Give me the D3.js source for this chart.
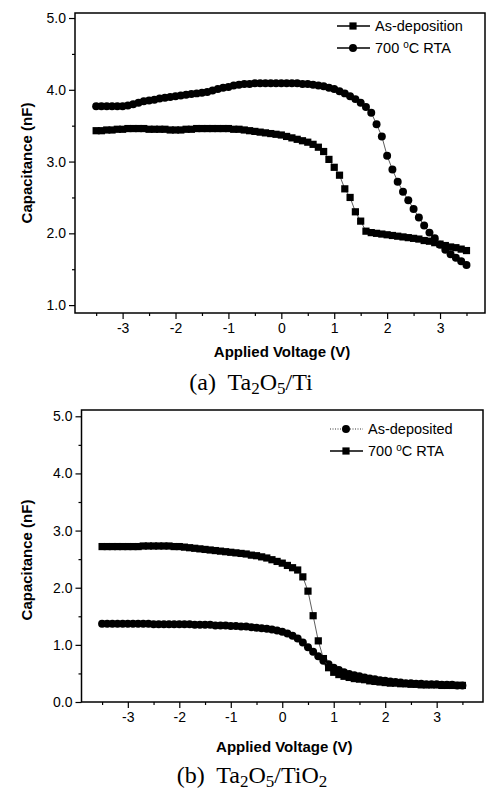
<!DOCTYPE html>
<html>
<head>
<meta charset="utf-8">
<script src="https://cdn.jsdelivr.net/npm/d3@7"></script>
<style>
  body { margin: 0; background: #fff; }
  svg { display: block; font-family: "Liberation Sans", Arial, sans-serif; }
  .axis text { font-size: 14px; fill: #000; }
  .axis line { stroke: #000; stroke-width: 1.2; }
  .axis path { display: none; }
</style>
</head>
<body>
<div id="chart"></div>
<script>
// sweep voltages (V), shared by both panels
const voltage = [
  -3.5, -3.4, -3.3, -3.2, -3.1, -3.0, -2.9, -2.8, -2.7, -2.6,
  -2.5, -2.4, -2.3, -2.2, -2.1, -2.0, -1.9, -1.8, -1.7, -1.6,
  -1.5, -1.4, -1.3, -1.2, -1.1, -1.0, -0.9, -0.8, -0.7, -0.6,
  -0.5, -0.4, -0.3, -0.2, -0.1, 0.0, 0.1, 0.2, 0.3, 0.4,
  0.5, 0.6, 0.7, 0.8, 0.9, 1.0, 1.1, 1.2, 1.3, 1.4,
  1.5, 1.6, 1.7, 1.8, 1.9, 2.0, 2.1, 2.2, 2.3, 2.4,
  2.5, 2.6, 2.7, 2.8, 2.9, 3.0, 3.1, 3.2, 3.3, 3.4,
  3.5
];

// (a) Ta2O5/Ti, capacitance in nF
const tiAsDep = [
  3.43, 3.43, 3.44, 3.44, 3.45, 3.45, 3.46, 3.46, 3.46, 3.46,
  3.45, 3.45, 3.45, 3.45, 3.44, 3.44, 3.44, 3.45, 3.45, 3.46,
  3.46, 3.46, 3.46, 3.46, 3.46, 3.46, 3.45, 3.45, 3.44, 3.43,
  3.42, 3.41, 3.40, 3.39, 3.38, 3.37, 3.35, 3.33, 3.31, 3.29,
  3.27, 3.24, 3.20, 3.14, 3.03, 2.92, 2.81, 2.62, 2.50, 2.30,
  2.17, 2.03, 2.01, 2.00, 1.99, 1.98, 1.97, 1.96, 1.95, 1.94,
  1.93, 1.92, 1.90, 1.89, 1.87, 1.85, 1.83, 1.81, 1.80, 1.78,
  1.76
];
const tiRta = [
  3.77, 3.77, 3.77, 3.77, 3.77, 3.77, 3.78, 3.80, 3.82, 3.84,
  3.85, 3.86, 3.88, 3.89, 3.90, 3.91, 3.92, 3.93, 3.94, 3.95,
  3.96, 3.97, 3.99, 4.01, 4.03, 4.04, 4.06, 4.07, 4.08, 4.08,
  4.09, 4.09, 4.09, 4.09, 4.09, 4.09, 4.09, 4.09, 4.09, 4.08,
  4.08, 4.07, 4.06, 4.05, 4.03, 4.01, 3.98, 3.95, 3.91, 3.87,
  3.82, 3.76, 3.68, 3.52, 3.35, 3.08, 2.89, 2.72, 2.58, 2.46,
  2.34, 2.22, 2.11, 2.01, 1.93, 1.84, 1.77, 1.71, 1.66, 1.61,
  1.56
];

// (b) Ta2O5/TiO2, capacitance in nF
const tio2AsDep = [
  1.37, 1.37, 1.37, 1.37, 1.37, 1.37, 1.37, 1.37, 1.37, 1.37,
  1.36, 1.36, 1.36, 1.36, 1.36, 1.36, 1.36, 1.36, 1.35, 1.35,
  1.35, 1.35, 1.34, 1.34, 1.34, 1.33, 1.33, 1.32, 1.32, 1.31,
  1.30, 1.29, 1.28, 1.27, 1.25, 1.23, 1.20, 1.16, 1.11, 1.04,
  0.96, 0.88, 0.80, 0.72, 0.66, 0.60, 0.56, 0.52, 0.49, 0.47,
  0.45, 0.43, 0.41, 0.40, 0.38, 0.37, 0.36, 0.35, 0.34, 0.33,
  0.33, 0.32, 0.32, 0.31, 0.31, 0.31, 0.30, 0.30, 0.30, 0.29,
  0.29
];
const tio2Rta = [
  2.72, 2.72, 2.72, 2.72, 2.72, 2.72, 2.72, 2.72, 2.73, 2.73,
  2.73, 2.73, 2.73, 2.73, 2.72, 2.72, 2.71, 2.70, 2.69, 2.68,
  2.67, 2.66, 2.65, 2.64, 2.63, 2.62, 2.61, 2.60, 2.59, 2.57,
  2.56, 2.54, 2.52, 2.49, 2.46, 2.43, 2.39, 2.35, 2.31, 2.19,
  1.94, 1.51, 1.07, 0.76, 0.60, 0.52, 0.48, 0.45, 0.43, 0.41,
  0.40, 0.39, 0.37, 0.36, 0.35, 0.34, 0.33, 0.33, 0.32, 0.32,
  0.31, 0.31, 0.30, 0.30, 0.30, 0.30, 0.29, 0.29, 0.29, 0.29,
  0.29
];

const xTicks = [-3, -2, -1, 0, 1, 2, 3];
const xMinor = [-3.5, -2.5, -1.5, -0.5, 0.5, 1.5, 2.5, 3.5];

const w = 486, h = 790;

const svg = d3.select('#chart')
  .append('svg')
  .attr('width', w)
  .attr('height', h);

const symbolFor = shape =>
  d3.symbol()
    .type(shape === 'square' ? d3.symbolSquare : d3.symbolCircle)
    .size(shape === 'square' ? 52 : 50);

function drawPanel(p) {
  const x = d3.scaleLinear().domain(p.xDomain).range([p.left, p.right]);
  const y = d3.scaleLinear().domain(p.yDomain).range([p.bottom, p.top]);
  const g = svg.append('g');

  // major + minor ticks, outward
  g.append('g').attr('class', 'axis')
    .attr('transform', `translate(0, ${p.bottom})`)
    .call(d3.axisBottom(x).tickValues(xTicks).tickSize(6).tickSizeOuter(0)
      .tickPadding(4).tickFormat(d => String(d)));
  g.append('g').attr('class', 'axis')
    .attr('transform', `translate(0, ${p.bottom})`)
    .call(d3.axisBottom(x).tickValues(xMinor).tickSize(3).tickSizeOuter(0).tickFormat(''));
  g.append('g').attr('class', 'axis')
    .attr('transform', `translate(${p.left}, 0)`)
    .call(d3.axisLeft(y).tickValues(p.yTicks).tickSize(6).tickSizeOuter(0)
      .tickPadding(3).tickFormat(d3.format('.1f')));
  g.append('g').attr('class', 'axis')
    .attr('transform', `translate(${p.left}, 0)`)
    .call(d3.axisLeft(y).tickValues(p.yMinor).tickSize(3).tickSizeOuter(0).tickFormat(''));

  // frame
  g.append('rect')
    .attr('x', p.left).attr('y', p.top)
    .attr('width', p.right - p.left).attr('height', p.bottom - p.top)
    .attr('fill', 'none').attr('stroke', '#000').attr('stroke-width', 1.5);

  // axis titles
  g.append('text')
    .attr('x', (p.left + p.right) / 2 + 2)
    .attr('y', p.xTitleY)
    .attr('text-anchor', 'middle')
    .style('font-size', '15px').style('font-weight', 'bold')
    .text('Applied Voltage (V)');
  g.append('text')
    .attr('transform', `translate(27, ${p.yTitleY}) rotate(-90)`)
    .attr('text-anchor', 'middle')
    .attr('dy', '0.35em')
    .style('font-size', '15px').style('font-weight', 'bold')
    .text('Capacitance (nF)');

  // series
  p.series.forEach(s => {
    const pts = voltage.map((v, i) => [v, s.values[i]]);
    g.append('path')
      .attr('d', d3.line().x(d => x(d[0])).y(d => y(d[1]))(pts))
      .attr('fill', 'none')
      .attr('stroke', '#333')
      .attr('stroke-width', 0.8)
      .attr('stroke-dasharray', s.dotted ? '1,1.5' : null);
    g.selectAll(null)
      .data(pts)
      .enter()
      .append('path')
      .attr('d', symbolFor(s.shape))
      .attr('transform', d => `translate(${x(d[0])}, ${y(d[1])})`)
      .attr('fill', '#000');
  });

  // legend
  p.series.forEach((s, i) => {
    const ly = p.legendY + i * 22;
    g.append('line')
      .attr('x1', p.legendX).attr('x2', p.legendX + 33)
      .attr('y1', ly).attr('y2', ly)
      .attr('stroke', '#000')
      .attr('stroke-width', s.dotted ? 0.8 : 1.4)
      .attr('stroke-dasharray', s.dotted ? '1,1.5' : null);
    g.append('path')
      .attr('d', symbolFor(s.shape))
      .attr('transform', `translate(${p.legendX + 16}, ${ly})`)
      .attr('fill', '#000');
    const t = g.append('text')
      .attr('x', p.legendX + 38)
      .attr('y', ly)
      .attr('dy', '0.35em')
      .style('font-size', '14.5px');
    if (s.rta) {
      t.append('tspan').text('700 ');
      t.append('tspan').attr('dy', '-5').style('font-size', '10px').text('o');
      t.append('tspan').attr('dy', '5').text('C RTA');
    } else {
      t.text(s.name);
    }
  });

  // caption
  const cap = g.append('text')
    .attr('x', p.capX)
    .attr('y', p.capY)
    .attr('text-anchor', 'middle')
    .style('font-family', '"Liberation Serif", "Times New Roman", serif')
    .style('font-size', '24px')
    .style('white-space', 'pre');
  p.caption.forEach(c => {
    cap.append('tspan')
      .attr('dy', c.sub ? 4 : (c.back ? -4 : 0))
      .style('font-size', c.sub ? '17px' : null)
      .text(c.t);
  });
}

drawPanel({
  xDomain: [-3.9, 3.85], yDomain: [0.89, 5.07],
  left: 75, right: 485, top: 13, bottom: 313,
  yTicks: [1, 2, 3, 4, 5], yMinor: [1.5, 2.5, 3.5, 4.5],
  xTitleY: 357, yTitleY: 163,
  legendX: 337, legendY: 26,
  series: [
    { name: 'As-deposition', values: tiAsDep, shape: 'square' },
    { name: '700 °C RTA', values: tiRta, shape: 'circle', rta: true }
  ],
  capX: 251, capY: 390,
  caption: [
    { t: '(a)  Ta' }, { t: '2', sub: true }, { t: 'O', back: true },
    { t: '5', sub: true }, { t: '/Ti', back: true }
  ]
});

drawPanel({
  xDomain: [-3.9, 3.9], yDomain: [0, 5.11],
  left: 81.5, right: 483, top: 410, bottom: 702,
  yTicks: [0, 1, 2, 3, 4, 5], yMinor: [0.5, 1.5, 2.5, 3.5, 4.5],
  xTitleY: 752, yTitleY: 560,
  legendX: 330, legendY: 429,
  series: [
    { name: 'As-deposited', values: tio2AsDep, shape: 'circle', dotted: true },
    { name: '700 °C RTA', values: tio2Rta, shape: 'square', rta: true }
  ],
  capX: 252, capY: 783,
  caption: [
    { t: '(b)  Ta' }, { t: '2', sub: true }, { t: 'O', back: true },
    { t: '5', sub: true }, { t: '/TiO', back: true }, { t: '2', sub: true }
  ]
});
</script>
</body>
</html>
